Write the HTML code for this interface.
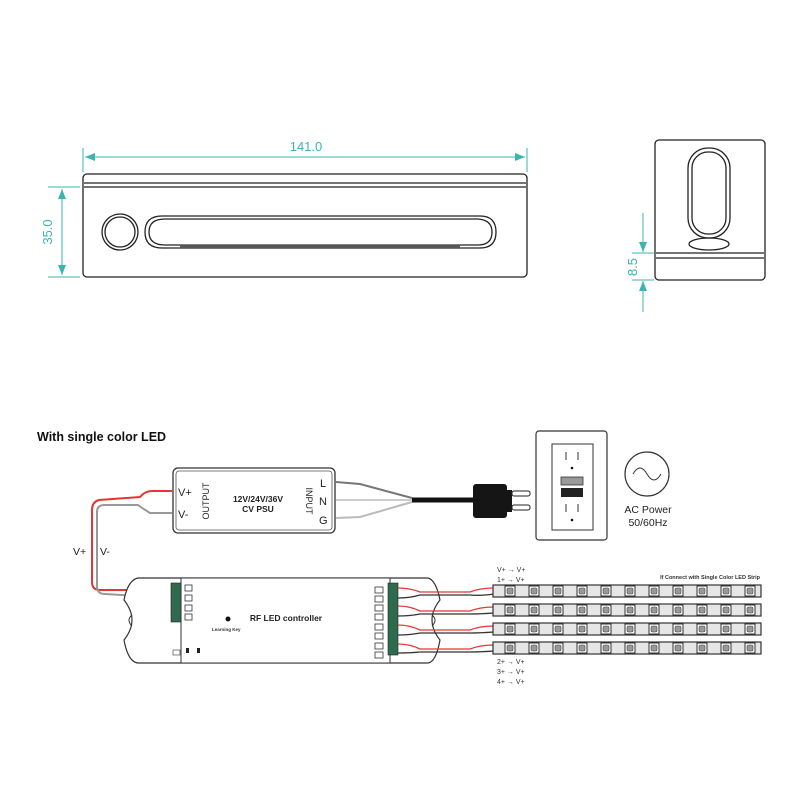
<!DOCTYPE html>
<html><head><meta charset="utf-8"><style>
html,body{margin:0;padding:0;background:#fff;}
svg{display:block;font-family:"Liberation Sans",sans-serif;}
</style></head><body>
<svg width="800" height="800" viewBox="0 0 800 800" xmlns="http://www.w3.org/2000/svg">
<defs>
<marker id="ar" markerWidth="10" markerHeight="8" refX="10" refY="4" orient="auto" markerUnits="userSpaceOnUse"><path d="M0,0 L10,4 L0,8 z" fill="#3ab5b0"/></marker>
<g id="led"><rect x="0" y="0" width="10" height="10" fill="#fff" stroke="#333" stroke-width="1"/><rect x="2" y="2" width="6" height="6" rx="1.5" fill="#999" stroke="#444" stroke-width="0.6"/></g>
</defs>
<!-- top view -->
<g fill="none" stroke="#222" stroke-width="1.3">
<rect x="83" y="174" width="444" height="103" rx="4"/>
<line x1="84" y1="183" x2="526" y2="183"/>
<line x1="84" y1="187" x2="526" y2="187"/>
<circle cx="120" cy="232" r="18"/><circle cx="120" cy="232" r="15"/>
<path d="M162,216 L480,216 Q496,216 496,232 Q496,248 480,248 L162,248 Q145,248 145,232 Q145,216 162,216 z"/>
<path d="M165,219 L478,219 Q492,220 492,232 Q492,245 478,245 L165,245 Q149,245 149,232 Q149,219 165,219 z"/>
<line x1="180" y1="246" x2="460" y2="246" stroke-width="2.5" stroke="#555"/>
</g>
<g stroke="#3ab5b0" stroke-width="1" fill="none">
<line x1="83" y1="148" x2="83" y2="172"/><line x1="527" y1="148" x2="527" y2="172"/>
<line x1="200" y1="157" x2="525" y2="157" marker-end="url(#ar)"/>
<line x1="200" y1="157" x2="85" y2="157" marker-end="url(#ar)"/>
<line x1="48" y1="187" x2="80" y2="187"/><line x1="48" y1="277" x2="80" y2="277"/>
<line x1="62" y1="232" x2="62" y2="189" marker-end="url(#ar)"/>
<line x1="62" y1="232" x2="62" y2="275" marker-end="url(#ar)"/>
</g>
<text x="306" y="151" font-size="13" fill="#3ab5b0" text-anchor="middle">141.0</text>
<text transform="translate(52,232) rotate(-90)" font-size="13" fill="#3ab5b0" text-anchor="middle">35.0</text>
<!-- side view -->
<g fill="none" stroke="#222" stroke-width="1.3">
<rect x="655" y="140" width="110" height="140" rx="4"/>
<line x1="656" y1="253" x2="764" y2="253"/><line x1="656" y1="258" x2="764" y2="258"/>
<rect x="688" y="148" width="42" height="90" rx="20"/>
<rect x="692" y="152" width="34" height="82" rx="16"/>
<ellipse cx="709" cy="244" rx="20" ry="6"/>
</g>
<g stroke="#3ab5b0" stroke-width="1" fill="none">
<line x1="632" y1="253" x2="654" y2="253"/><line x1="632" y1="280" x2="654" y2="280"/>
<line x1="643" y1="213" x2="643" y2="252" marker-end="url(#ar)"/>
<line x1="643" y1="312" x2="643" y2="281" marker-end="url(#ar)"/>
</g>
<text transform="translate(637,267) rotate(-90)" font-size="13" fill="#3ab5b0" text-anchor="middle">8.5</text>

<!-- wiring -->
<text x="37" y="441" font-size="12.5" font-weight="bold" fill="#111">With single color LED</text>
<!-- PSU -->
<rect x="173" y="468" width="162" height="65" rx="5" fill="#fff" stroke="#333" stroke-width="1.3"/>
<rect x="176" y="471" width="156" height="59" rx="3" fill="none" stroke="#555" stroke-width="0.8"/>
<text x="178" y="496" font-size="11" fill="#222">V+</text>
<text x="178" y="518" font-size="11" fill="#222">V-</text>
<text transform="translate(209,501) rotate(-90)" font-size="9" fill="#222" text-anchor="middle">OUTPUT</text>
<text x="258" y="502" font-size="8.5" font-weight="bold" fill="#222" text-anchor="middle">12V/24V/36V</text>
<text x="258" y="512" font-size="8.5" font-weight="bold" fill="#222" text-anchor="middle">CV PSU</text>
<text transform="translate(306,501) rotate(90)" font-size="9" fill="#222" text-anchor="middle">INPUT</text>
<text x="320" y="487" font-size="11" fill="#222">L</text>
<text x="319" y="505" font-size="11" fill="#222">N</text>
<text x="319" y="524" font-size="11" fill="#222">G</text>
<g fill="none" stroke-width="2">
<path d="M336,482 L360,484 L412,498" stroke="#777"/>
<path d="M336,500 L412,500" stroke="#ccc"/>
<path d="M336,518 L360,517 L412,502" stroke="#bbb"/>
</g>
<line x1="412" y1="500" x2="476" y2="500" stroke="#111" stroke-width="5"/>
<rect x="473" y="484" width="34" height="34" rx="3" fill="#151515"/>
<rect x="507" y="490" width="5" height="22" fill="#151515"/>
<rect x="512" y="491" width="18" height="5" rx="2" fill="#fff" stroke="#222"/>
<rect x="512" y="505" width="18" height="5" rx="2" fill="#fff" stroke="#222"/>
<!-- outlet -->
<rect x="536" y="431" width="71" height="109" rx="3" fill="#fff" stroke="#333" stroke-width="1.2"/>
<rect x="552" y="444" width="41" height="86" fill="#fff" stroke="#333" stroke-width="1"/>
<g stroke="#333" stroke-width="1"><line x1="566" y1="452" x2="566" y2="460"/><line x1="578" y1="452" x2="578" y2="460"/><line x1="566" y1="504" x2="566" y2="512"/><line x1="578" y1="504" x2="578" y2="512"/></g>
<circle cx="572" cy="468" r="1.3" fill="#111"/><circle cx="572" cy="520" r="1.3" fill="#111"/>
<rect x="561" y="477" width="22" height="8" fill="#999" stroke="#333" stroke-width="0.8"/>
<rect x="561" y="488" width="22" height="9" fill="#222"/>
<!-- AC -->
<circle cx="647" cy="474" r="22" fill="#fff" stroke="#333" stroke-width="1.2"/>
<path d="M633,474 Q640,462 647,474 T661,474" fill="none" stroke="#333" stroke-width="1"/>
<text x="648" y="513" font-size="10.5" fill="#222" text-anchor="middle">AC Power</text>
<text x="648" y="526" font-size="10.5" fill="#222" text-anchor="middle">50/60Hz</text>
<!-- psu to controller wires -->
<path d="M172,491 L152,491 Q145,491 140,497 L99,500 Q92,502 92,510 L92,582 Q92,590 100,590 L140,590 L172,588" fill="none" stroke="#e53535" stroke-width="2"/>
<path d="M172,513 L150,513 Q142,508 138,505 L104,505 Q97,505 97,512 L97,586 Q97,594 105,594 L140,596 L172,596" fill="none" stroke="#999" stroke-width="2"/>
<text x="73" y="555" font-size="10.5" fill="#222">V+</text>
<text x="100" y="555" font-size="10.5" fill="#222">V-</text>
<!-- controller -->
<path d="M138,578 L428,578 Q436,580 440,600 Q432,610 432,620 Q432,630 440,640 Q436,662 428,663 L138,663 Q128,662 124,640 Q132,630 132,620 Q132,610 124,600 Q128,580 138,578 z" fill="#fff" stroke="#333" stroke-width="1.2"/>
<path d="M132,615 Q126,620 132,626 M432,615 Q438,620 432,626" fill="none" stroke="#333" stroke-width="1"/>
<rect x="181" y="578" width="209" height="85" fill="#fff" stroke="#333" stroke-width="1"/>
<rect x="171" y="583" width="10" height="39" fill="#2e6b4e" stroke="#222" stroke-width="0.6"/>
<rect x="388" y="583" width="10" height="72" fill="#2e6b4e" stroke="#222" stroke-width="0.6"/>
<g fill="#fff" stroke="#333" stroke-width="0.8">
<rect x="185" y="585" width="7" height="6"/><rect x="185" y="595" width="7" height="6"/><rect x="185" y="605" width="7" height="6"/><rect x="185" y="614" width="7" height="6"/>
<rect x="375" y="587" width="8" height="6"/><rect x="375" y="596" width="8" height="6"/>
<rect x="375" y="605" width="8" height="6"/><rect x="375" y="614" width="8" height="6"/>
<rect x="375" y="624" width="8" height="6"/><rect x="375" y="633" width="8" height="6"/>
<rect x="375" y="643" width="8" height="6"/><rect x="375" y="652" width="8" height="6"/>
</g>
<circle cx="228" cy="619" r="2.5" fill="#111"/>
<text x="212" y="631" font-size="4.5" font-weight="bold" fill="#333">Learning Key</text>
<text x="286" y="621" font-size="8.5" font-weight="bold" fill="#222" text-anchor="middle">RF LED controller</text>
<rect x="173" y="650" width="7" height="5" fill="#fff" stroke="#333" stroke-width="0.6"/>
<rect x="186" y="648" width="3" height="5" fill="#222"/><rect x="197" y="648" width="3" height="5" fill="#222"/>
<!-- output wires -->
<g fill="none" stroke-width="1.3">
<path d="M398,588 Q410,588 420,592 L470,592 Q480,588 494,588" stroke="#e53535"/>
<path d="M398,598 Q410,598 420,595 L470,595 Q480,596 494,594" stroke="#333"/>
<path d="M398,606 Q410,606 420,611 L470,611 Q480,607 494,607" stroke="#e53535"/>
<path d="M398,616 Q410,616 420,614 L470,614 Q480,614 494,613" stroke="#333"/>
<path d="M398,625 Q410,625 420,630 L470,630 Q480,626 494,626" stroke="#e53535"/>
<path d="M398,635 Q410,635 420,633 L470,633 Q480,633 494,632" stroke="#333"/>
<path d="M398,644 Q410,644 420,649 L470,649 Q480,645 494,645" stroke="#e53535"/>
<path d="M398,653 Q410,653 420,652 L470,652 Q480,652 494,651" stroke="#333"/>
</g>
<!-- strips -->
<g id="strip">
<rect x="493" y="585" width="268" height="12" fill="#e6e6e6" stroke="#333" stroke-width="1.2"/>
<use href="#led" x="505" y="586"/><use href="#led" x="529" y="586"/><use href="#led" x="553" y="586"/><use href="#led" x="577" y="586"/><use href="#led" x="601" y="586"/><use href="#led" x="625" y="586"/><use href="#led" x="649" y="586"/><use href="#led" x="673" y="586"/><use href="#led" x="697" y="586"/><use href="#led" x="721" y="586"/><use href="#led" x="745" y="586"/>
</g>
<use href="#strip" y="19"/><use href="#strip" y="38"/><use href="#strip" y="57"/>
<g font-size="7" fill="#333">
<text x="497" y="572">V+ → V+</text>
<text x="497" y="582">1+ → V+</text>
<text x="497" y="664">2+ → V+</text>
<text x="497" y="674">3+ → V+</text>
<text x="497" y="684">4+ → V+</text>
</g>
<text x="760" y="579" font-size="5.5" font-weight="bold" fill="#333" text-anchor="end">If Connect with Single Color LED Strip</text>
</svg>
</body></html>
